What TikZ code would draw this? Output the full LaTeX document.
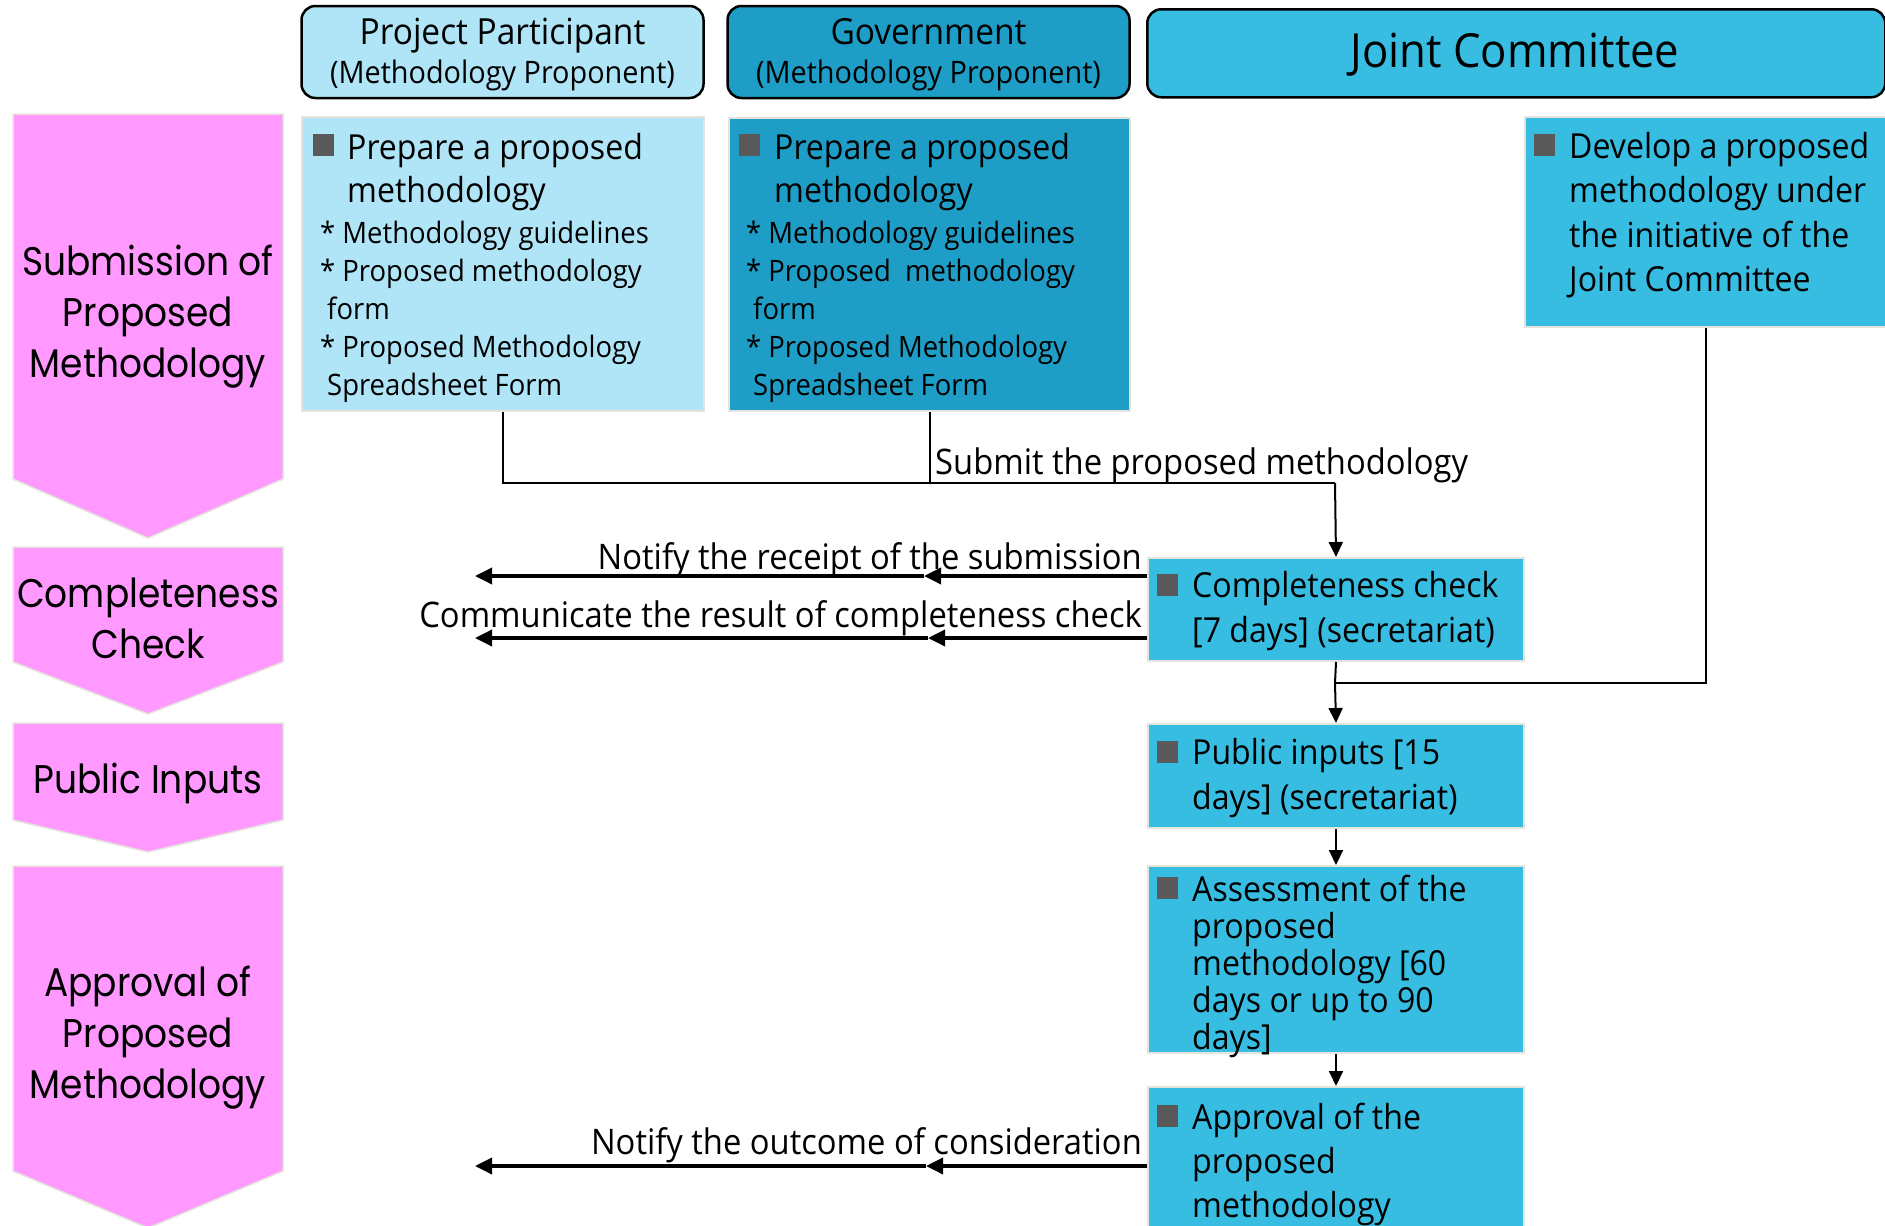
\documentclass[tikz,border=0pt]{standalone}
\usepackage{fontspec}
\setmainfont{Open Sans}[FakeStretch=0.93]
\newfontfamily\pinkfont{Poppins}[FakeStretch=0.9]
\usetikzlibrary{arrows.meta,calc}
\newcommand\linesL[1]{\vtop{\halign{##\hfil\cr#1\crcr}}}
\newcommand\linesC[1]{\vtop{\halign{\hfil##\hfil\cr#1\crcr}}}
\newcommand\fs[2]{\fontsize{#1}{#2}\selectfont}
\definecolor{pinkc}{HTML}{FF99FF}
\definecolor{ppc}{HTML}{AFE5F7}
\definecolor{govc}{HTML}{1E9EC6}
\definecolor{jcc}{HTML}{38BDE2}
\definecolor{bulc}{HTML}{595959}
\definecolor{edgec}{HTML}{E4E4DC}
\tikzset{
  chev/.style={fill=pinkc, draw=edgec, line width=1.5pt},
  hdr/.style={draw=black, line width=2.5pt, rounded corners=14pt, inner sep=0pt},
  cbox/.style={draw=edgec, line width=2pt, inner sep=0pt, anchor=north west},
  bul/.style={fill=bulc, inner sep=0pt, minimum width=21pt, minimum height=22pt, anchor=south west},
  txt/.style={inner sep=0pt, anchor=base west},
  txtc/.style={inner sep=0pt, anchor=base},
  txte/.style={inner sep=0pt, anchor=base east},
  conn/.style={draw=black, line width=2pt},
  arr/.style={conn, -{Triangle[length=15pt,width=14pt]}},
  larr/.style={draw=black, line width=3.5pt, -{Triangle[length=17pt,width=16pt]}},
  main/.style={font=\fs{34.5}{43}},
  lab/.style={font=\fs{35.2}{43}},
  small/.style={font=\fs{29.5}{38}},
  pinklab/.style={txtc, font=\pinkfont\fs{40}{51}},
}
\begin{document}
\begin{tikzpicture}[x=1pt,y=-1pt]
\useasboundingbox (0,0) rectangle (1885,1226);
\fill[white] (0,0) rectangle (1885,1226);

% ---------- left phase chevrons ----------
\draw[chev] (13,114) -- (283,114) -- (283,479) -- (148,538) -- (13,479) -- cycle;
\draw[chev] (13,547) -- (283,547) -- (283,662) -- (148,714) -- (13,662) -- cycle;
\draw[chev] (13,723) -- (283,723) -- (283,820) -- (148,852) -- (13,820) -- cycle;
\draw[chev] (13,866) -- (283,866) -- (283,1171) -- (148,1228) -- (13,1171) -- cycle;
\node[pinklab] (ph1) at (148,275) {\linesC{Submission of\cr Proposed\cr Methodology}};
\node[pinklab] (ph2) at (148,607) {\linesC{Completeness\cr Check}};
\node[pinklab] (ph3) at (148,793) {Public Inputs};
\node[pinklab] (ph4) at (148,996) {\linesC{Approval of\cr Proposed\cr Methodology}};

% ---------- headers ----------
\node[hdr, fill=ppc, minimum width=402pt, minimum height=92pt] (hpp) at (502.5,52) {};
\node[hdr, fill=govc, minimum width=402pt, minimum height=92pt] (hgov) at (928.5,52) {};
\node[hdr, fill=jcc, minimum width=738pt, minimum height=88pt, anchor=north west] (hjc) at (1146,8) {};
\node[txtc, font=\fs{36}{42}] (tpp1) at (502.5,44.5) {Project Participant};
\node[txtc, font=\fs{31}{36}] (tpp2) at (502.5,83) {(Methodology Proponent)};
\node[txtc, font=\fs{36}{42}] (tgov1) at (928.5,44.5) {Government};
\node[txtc, font=\fs{31}{36}] (tgov2) at (928.5,83) {(Methodology Proponent)};
\node[txtc, font=\fs{47}{56}] (tjc) at (1515,67) {Joint Committee};

% ---------- content boxes ----------
\node[cbox, fill=ppc, minimum width=402pt, minimum height=294pt] (pp) at (301,116) {};
\node[cbox, fill=govc, minimum width=401pt, minimum height=293pt] (gov) at (728,117) {};
\node[cbox, fill=jcc, minimum width=362pt, minimum height=210pt] (jcd) at (1524,116) {};
\node[cbox, fill=jcc, minimum width=376pt, minimum height=103pt] (cc) at (1147,557) {};
\node[cbox, fill=jcc, minimum width=376pt, minimum height=104pt] (pi) at (1147,723) {};
\node[cbox, fill=jcc, minimum width=376pt, minimum height=187pt] (as) at (1147,865) {};
\node[cbox, fill=jcc, minimum width=376pt, minimum height=170pt] (ap) at (1147,1086) {};

% PP box text
\node[bul] (bpp) at (313,156) {};
\node[txt, main] (tpp) at (347,159) {\linesL{Prepare a proposed\cr methodology}};
\node[txt, small] (spp) at (320,243) {\linesL{* Methodology guidelines\cr * Proposed methodology\cr \hspace*{7pt}form\cr * Proposed Methodology\cr \hspace*{7pt}Spreadsheet Form}};
% Gov box text
\node[bul] (bgov) at (739,156) {};
\node[txt, main] (tgv) at (774,159) {\linesL{Prepare a proposed\cr methodology}};
\node[txt, small] (sgov) at (746,243) {\linesL{* Methodology guidelines\cr * Proposed\ \ methodology\cr \hspace*{7pt}form\cr * Proposed Methodology\cr \hspace*{7pt}Spreadsheet Form}};
% JC develop
\node[bul] (bjc) at (1534,156) {};
\node[txt, font=\fs{34.5}{44.5}] (tjcd) at (1569,158) {\linesL{Develop a proposed\cr methodology under\cr the initiative of the\cr Joint Committee}};
% completeness
\node[bul] (bcc) at (1157,596) {};
\node[txt, font=\fs{34.5}{44.5}] (tcc) at (1192,597.5) {\linesL{Completeness check\cr [7 days] (secretariat)}};
% public inputs
\node[bul] (bpi) at (1157,763) {};
\node[txt, font=\fs{34.5}{45}] (tpi) at (1192,764) {\linesL{Public inputs [15\cr days] (secretariat)}};
% assessment
\node[bul] (bas) at (1157,899) {};
\node[txt, font=\fs{34.5}{37}] (tas) at (1192,901.5) {\linesL{Assessment of the\cr proposed\cr methodology [60\cr days or up to 90\cr days]}};
% approval
\node[bul] (bap) at (1157,1127) {};
\node[txt, font=\fs{34.5}{44}] (tap) at (1192,1129.5) {\linesL{Approval of the\cr proposed\cr methodology}};

% ---------- connectors ----------
\coordinate (j1) at (1335,483);
\coordinate (j2) at (1335,683);
\draw[conn] (pp.south) |- (j1);
\draw[conn] (gov.south) -- (gov.south |- j1);
\draw[arr] (j1) -- (cc.north);
\draw[conn] (jcd.south) |- (j2);
\draw[conn] (cc.south) -- (j2);
\draw[arr] (j2) -- (pi.north);
\draw[arr] (pi.south) -- (as.north);
\draw[arr] (as.south) -- (ap.north);
\node[txt, lab] (lsub) at (935,474) {Submit the proposed methodology};

% left-pointing notifications
\coordinate (s1) at ($(cc.north west)+(0,19)$);
\coordinate (m1) at (924,576);
\coordinate (e1) at (475,576);
\coordinate (s2) at ($(cc.north west)+(0,81)$);
\coordinate (m2) at (928,638);
\coordinate (e2) at (475,638);
\coordinate (s3) at ($(ap.north west)+(0,80)$);
\coordinate (m3) at (926,1166);
\coordinate (e3) at (475,1166);
\draw[larr] (s1) -- (m1);
\draw[larr] (m1) -- (e1);
\draw[larr] (s2) -- (m2);
\draw[larr] (m2) -- (e2);
\draw[larr] (s3) -- (m3);
\draw[larr] (m3) -- (e3);
\node[txte, lab] (l1) at (1142,569) {Notify the receipt of the submission};
\node[txte, lab] (l2) at (1142,627) {Communicate the result of completeness check};
\node[txte, lab] (l3) at (1142,1154) {Notify the outcome of consideration};
\end{tikzpicture}
\end{document}
